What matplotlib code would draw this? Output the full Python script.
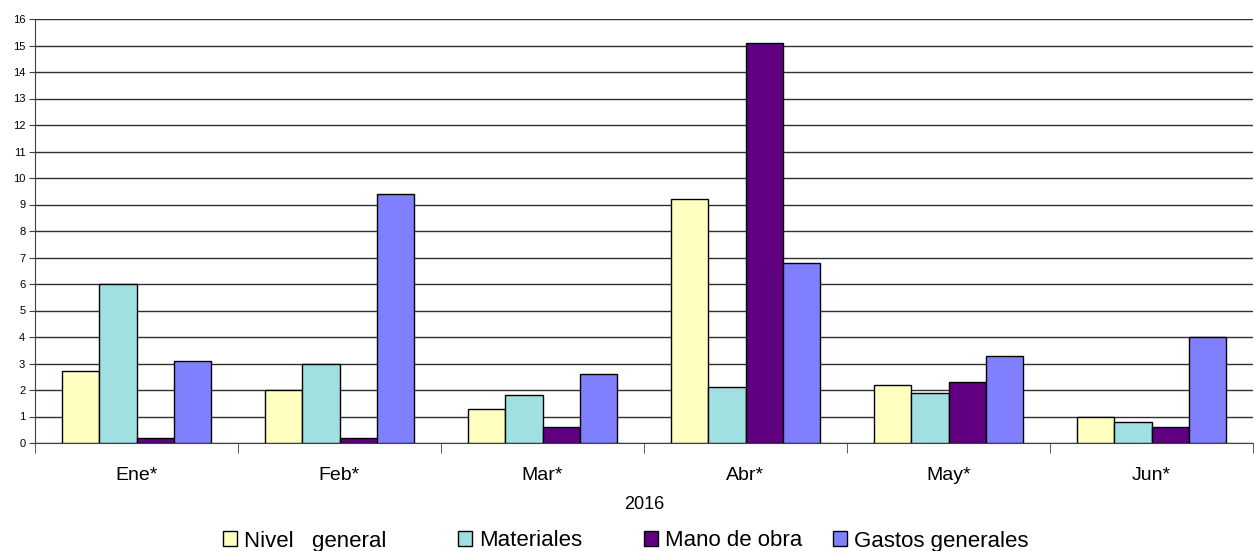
import numpy as np
import matplotlib
matplotlib.use('Agg')
import matplotlib.pyplot as plt
from matplotlib.patches import Patch

# Data
months = ['Ene*', 'Feb*', 'Mar*', 'Abr*', 'May*', 'Jun*']
nivel_general = [2.7, 2.0, 1.3, 9.2, 2.2, 1.0]
materiales = [6.0, 3.0, 1.8, 2.1, 1.9, 0.8]
mano_de_obra = [0.2, 0.2, 0.6, 15.1, 2.3, 0.6]
gastos_generales = [3.1, 9.4, 2.6, 6.8, 3.3, 4.0]
series_labels = ['Nivel   general', 'Materiales', 'Mano de obra', 'Gastos generales']
series_colors = ['#FFFFC0', '#A0E0E0', '#600080', '#8080FF']

plt.rcParams['font.family'] = ['Liberation Sans', 'DejaVu Sans']

fig = plt.figure(figsize=(12.54, 5.51), dpi=100)
ax = fig.add_axes([35 / 1254, 1 - 443 / 551, 1 - 36 / 1254, (443 - 19) / 551])

x = np.arange(len(months))
bar_w = 0.183
series = [nivel_general, materiales, mano_de_obra, gastos_generales]
for i, (vals, col) in enumerate(zip(series, series_colors)):
    ax.bar(x + (i - 1.5) * bar_w, vals, width=bar_w, color=col,
           edgecolor='black', linewidth=1, zorder=3)

ax.set_xlim(-0.5, len(months) - 0.5)
ax.set_ylim(0, 16)
ax.set_yticks(range(0, 17))
ax.yaxis.grid(True, color='#303030', linewidth=1, zorder=0)
ax.set_axisbelow(True)

ax.set_xticks(x)
ax.set_xticklabels(months, fontsize=14)
ax.set_xticks(np.arange(-0.5, len(months)), minor=True)
ax.tick_params(axis='x', which='major', length=0, pad=17)
ax.tick_params(axis='x', which='minor', length=7, direction='out', color='#404040')
ax.tick_params(axis='y', labelsize=8, length=4, color='#404040', pad=3)
ax.set_xlabel('2016', fontsize=13)
ax.xaxis.set_label_coords(0.5, -0.125)

for s in ['top', 'right']:
    ax.spines[s].set_visible(False)
ax.spines['left'].set_color('#404040')
ax.spines['bottom'].set_color('#404040')

# legend entries laid out like the original (one small legend per series)
legend_x = [223, 458, 644, 833]
for lx, lab, col in zip(legend_x, series_labels, series_colors):
    h = Patch(facecolor=col, edgecolor='black', linewidth=1)
    leg = fig.legend([h], [lab], loc='center left', bbox_to_anchor=(lx / 1254, 1 - 541 / 551),
                     frameon=False, fontsize=16, handlelength=0.65, handleheight=0.65,
                     handletextpad=0.3, borderpad=0, borderaxespad=0)

fig.savefig('out.png', dpi=100)
